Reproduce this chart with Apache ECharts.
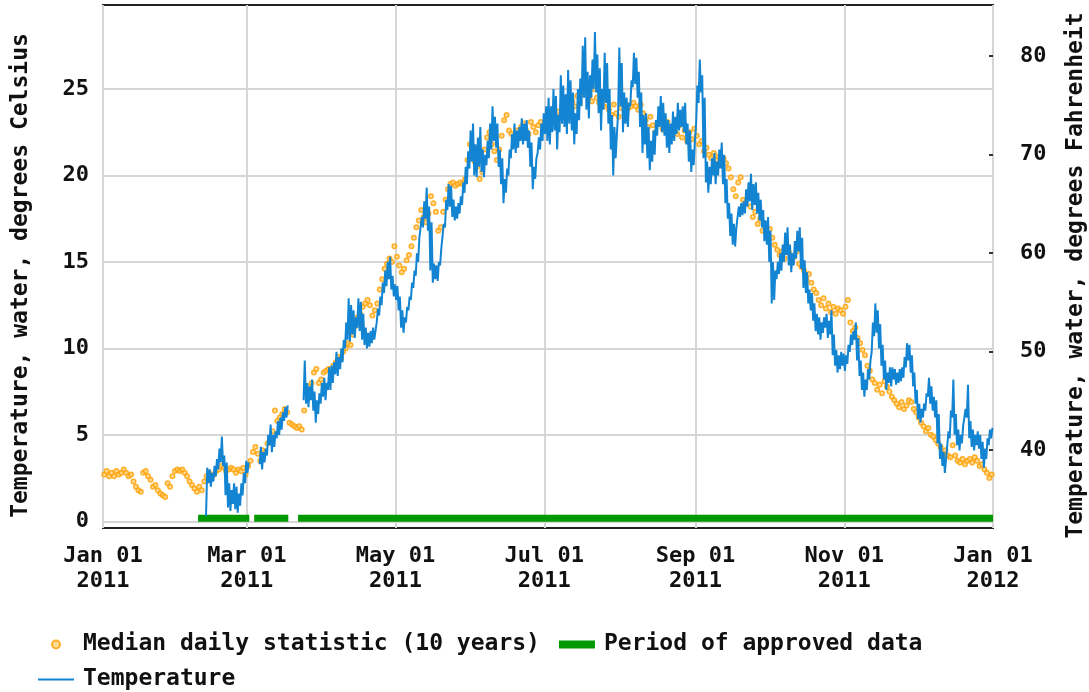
<!DOCTYPE html>
<html><head><meta charset="utf-8">
<script src="https://cdn.jsdelivr.net/npm/echarts@6/dist/echarts.min.js"></script>
<style>html,body{margin:0;padding:0;background:#fff}#c{width:1089px;height:692px}</style>
</head><body><div id="c"></div>
<script>
// ---- tick labels ----
const monthTickDays = [0, 59, 120, 181, 243, 304, 365];
const monthTickLabels = ['Jan 01\n2011','Mar 01\n2011','May 01\n2011','Jul 01\n2011','Sep 01\n2011','Nov 01\n2011','Jan 01\n2012'];
const celsiusTicks = [0, 5, 10, 15, 20, 25];
const fahrenheitTicks = [40, 50, 60, 70, 80];

// ---- Median daily statistic (10 years), deg C, day 0 = Jan 01 2011 ----
const medianDaily = [
 2.7,2.9,2.6,2.8,2.6,2.9,2.7,2.8,3.0,2.8,
 2.6,2.7,2.3,2.0,1.8,1.7,2.8,2.9,2.6,2.4,
 2.0,2.1,1.8,1.6,1.5,1.4,2.2,2.0,2.6,2.9,
 3.0,2.9,3.0,2.8,2.6,2.3,2.1,1.9,1.7,2.0,
 1.8,2.3,2.6,2.8,2.5,2.7,2.9,3.0,3.2,3.1,
 2.9,3.0,3.1,3.0,2.8,3.0,2.9,3.1,2.7,3.2,
 3.5,4.0,4.3,3.9,3.5,4.1,4.0,4.5,4.8,5.2,
 6.4,5.8,6.0,6.2,6.5,6.3,5.7,5.6,5.5,5.4,
 5.5,5.3,6.4,7.4,7.8,8.0,8.6,8.8,8.0,8.2,
 8.6,8.7,8.8,8.8,9.0,9.2,9.5,9.4,9.8,10.0,
 10.3,10.2,10.8,11.3,11.8,12.0,12.4,12.6,12.8,12.5,
 11.9,12.2,12.6,13.4,14.0,14.6,14.9,15.2,15.0,15.9,
 15.3,14.8,14.4,14.6,15.1,15.4,15.9,16.4,17.0,17.4,
 18.0,17.6,17.3,17.8,18.8,18.4,17.9,16.8,17.0,17.9,
 18.6,19.2,19.5,19.6,19.4,19.5,19.6,19.5,19.8,20.9,
 21.8,21.2,20.8,20.5,19.8,20.2,21.5,22.2,22.5,21.8,
 21.4,20.9,21.5,22.3,23.2,23.5,22.6,22.4,22.2,22.6,
 22.4,22.8,23.0,22.6,22.4,23.1,22.8,22.5,22.9,23.1,
 22.8,22.9,23.3,23.0,23.5,23.2,23.7,23.4,23.9,23.6,
 24.1,23.8,24.3,24.0,24.6,24.2,24.7,24.9,25.1,24.6,
 24.3,25.0,24.5,24.2,24.8,24.0,24.4,23.8,23.5,24.1,
 23.6,23.4,23.9,24.3,24.1,23.9,24.0,24.2,24.0,23.8,
 24.1,23.6,23.2,22.8,23.4,22.9,22.5,23.0,23.3,22.7,
 22.6,23.1,22.8,22.4,22.8,22.4,22.9,22.2,22.6,22.0,
 22.5,22.1,22.7,22.3,21.8,22.0,21.4,21.6,21.2,21.0,
 21.3,20.9,21.1,20.8,21.0,20.7,20.4,19.9,19.2,18.8,
 19.6,19.9,18.6,18.4,18.9,18.2,17.6,17.9,17.2,17.5,
 16.8,17.1,16.6,16.9,16.4,16.0,15.7,15.4,15.6,15.2,
 15.8,15.5,15.0,15.3,15.6,14.9,14.7,14.5,14.0,14.3,
 13.8,13.4,13.2,12.8,12.5,12.9,12.3,12.6,12.1,12.4,
 12.0,12.3,12.2,12.0,12.4,12.8,11.5,11.0,11.2,10.6,
 10.3,9.9,9.6,9.0,8.7,8.2,8.0,7.6,7.9,7.4,
 8.1,7.8,7.5,7.2,7.0,6.8,6.6,6.9,6.5,6.7,
 7.0,6.9,6.5,6.3,6.0,5.7,5.5,5.2,5.4,5.0,
 4.9,4.7,4.5,4.3,3.9,4.1,3.8,3.7,4.4,3.8,
 3.5,3.4,3.6,3.3,3.5,3.6,3.4,3.7,3.5,3.2,
 3.3,3.0,2.8,2.5,2.7
];

// ---- Temperature (daily low / high, deg C), first entry = day 42 (Feb 12 2011) ----
const tempStartDay = 42;
const tempLow = [
 0.3,2.2,2.0,2.3,2.6,3.0,3.4,3.2,1.5,0.8,
 0.6,1.0,0.7,0.5,0.9,1.5,2.2,2.8,null,null,
 null,null,3.3,3.0,3.4,3.8,4.4,4.0,4.3,4.8,
 5.0,5.3,5.8,6.0,null,null,null,null,null,null,
 7.0,6.8,6.6,7.0,6.4,5.7,6.2,6.8,7.2,7.0,
 7.6,7.6,8.0,8.5,8.4,8.8,9.2,10.0,10.5,10.4,
 10.8,10.6,11.2,11.0,10.5,10.2,10.0,10.1,10.3,10.5,
 11.5,11.9,12.5,13.2,13.6,14.0,13.4,13.0,12.8,12.2,
 11.2,10.9,11.5,12.2,12.8,13.5,14.2,15.0,16.3,17.0,
 17.5,16.8,14.5,13.8,14.0,13.9,14.8,15.8,17.0,18.0,
 18.2,17.6,17.4,17.5,17.8,18.3,19.0,19.5,20.4,20.8,
 20.0,19.9,20.5,20.2,19.9,20.6,21.0,21.5,22.0,21.6,
 20.5,19.5,18.4,19.0,20.0,21.0,21.5,21.3,21.6,22.0,
 21.8,22.0,21.6,20.5,19.2,19.8,21.3,21.5,22.0,22.4,
 22.0,21.8,22.5,22.6,21.5,22.5,23.0,22.8,22.4,23.0,
 22.6,21.8,22.4,23.2,24.0,24.5,23.8,23.3,24.5,25.0,
 24.8,23.6,22.6,23.8,24.2,23.0,21.5,20.0,21.0,23.6,
 24.0,22.5,23.0,22.8,24.0,25.1,25.3,24.5,22.8,21.3,
 21.8,21.0,20.3,20.8,21.2,22.3,22.8,22.5,22.3,21.6,
 21.3,21.8,22.0,22.4,22.6,22.8,22.5,21.8,20.8,20.2,
 20.6,23.0,24.2,24.8,21.0,19.6,19.0,19.5,20.0,19.5,
 20.0,20.4,19.5,18.4,17.5,16.5,16.0,15.9,17.0,17.6,
 17.7,17.8,18.2,18.5,18.0,18.3,17.8,17.4,17.0,16.2,
 16.0,15.0,12.6,12.8,14.0,14.3,14.5,15.0,15.4,14.8,
 14.4,14.8,15.2,15.6,14.6,13.5,13.2,12.6,12.2,11.6,
 11.0,10.8,10.5,10.9,11.2,10.6,10.8,9.6,9.0,8.6,
 8.8,9.0,8.7,9.1,9.8,10.2,10.5,9.3,8.4,7.6,
 7.2,7.6,8.2,9.8,10.7,10.9,10.0,9.0,8.2,7.6,
 8.0,7.8,8.2,7.9,8.0,8.1,8.3,8.9,9.3,8.6,
 7.8,6.8,5.9,5.7,6.0,6.4,7.2,6.8,6.4,6.0,
 4.5,3.6,3.2,2.8,3.5,4.8,6.0,5.0,4.4,4.1,
 4.5,5.6,6.0,4.8,4.3,4.1,4.4,4.2,3.6,3.1,
 3.6,4.4,4.8
];
const tempHigh = [
 3.1,3.0,2.8,3.2,3.6,4.2,4.9,3.8,3.4,2.2,
 1.8,2.2,2.0,1.6,2.2,2.8,3.5,3.4,null,null,
 null,null,4.3,4.0,4.2,5.0,5.6,5.0,5.2,5.8,
 6.0,6.3,6.6,6.7,null,null,null,null,null,null,
 9.3,8.0,7.8,8.2,7.5,7.0,7.4,8.0,8.3,8.0,
 8.9,9.0,9.2,9.8,9.5,10.0,10.5,11.5,12.9,12.5,
 12.2,11.8,12.9,12.7,12.0,11.2,10.9,11.0,11.2,11.0,
 12.3,13.0,13.8,14.5,15.0,15.3,14.2,13.7,13.6,13.0,
 12.2,11.8,12.4,13.0,13.8,14.5,15.5,16.4,17.6,18.5,
 19.3,18.2,17.3,14.9,14.8,15.0,15.8,17.2,18.6,19.5,
 19.4,18.6,18.2,18.4,18.8,19.6,20.5,21.4,22.6,23.0,
 21.8,22.2,22.8,21.5,21.2,22.0,23.0,24.0,23.4,23.0,
 21.5,21.0,19.8,20.4,21.5,22.4,23.0,22.6,22.8,23.3,
 23.0,23.2,22.6,21.9,20.5,21.0,22.2,23.0,23.6,24.0,
 24.5,24.0,25.0,24.6,23.5,25.8,25.2,24.7,26.1,25.5,
 24.8,23.6,25.0,25.6,27.5,28.0,26.0,25.8,26.7,28.3,
 27.0,26.2,25.0,27.1,26.5,25.0,23.5,22.8,22.4,27.4,
 26.5,24.8,24.5,24.2,25.5,27.1,26.8,26.0,24.8,23.5,
 23.6,22.8,22.0,22.6,23.2,24.0,24.6,24.2,23.6,23.2,
 23.0,23.7,23.4,24.2,23.8,24.0,24.2,23.0,22.6,21.5,
 22.0,25.2,26.7,25.8,24.5,20.8,20.5,21.0,21.3,20.8,
 21.5,21.9,21.2,19.8,18.4,17.8,17.2,17.0,18.2,18.4,
 18.5,19.2,19.6,20.1,19.5,19.6,19.0,18.6,18.0,17.4,
 17.6,16.8,15.0,14.5,15.0,15.5,16.0,16.7,17.0,16.0,
 15.5,16.2,16.8,17.0,16.4,15.1,14.4,13.4,13.2,12.6,
 12.0,11.8,11.5,11.8,12.0,11.6,12.2,10.8,9.9,9.6,
 9.8,9.7,9.6,10.2,10.8,11.0,11.5,10.6,9.3,8.6,
 8.2,8.8,9.3,11.5,12.6,12.2,11.4,10.2,9.3,8.6,
 8.9,8.9,8.8,8.6,8.8,8.9,9.5,10.3,10.2,9.6,
 8.6,7.6,6.8,6.5,6.8,7.4,8.3,7.8,7.2,7.0,
 6.2,4.5,4.0,3.6,5.2,6.4,8.2,6.2,5.3,5.0,
 5.5,6.5,7.9,5.8,5.3,5.0,5.2,5.0,4.6,4.2,
 4.8,5.3,5.4
];

// ---- Period of approved data ----
const approvedPeriods = [['2011-02-09','2011-03-02'],['2011-03-04','2011-03-18'],['2011-03-22','2012-01-01']];
const approvedLevel = 0.17;

// ---- build series data ----
const dayOf = s => (Date.UTC(+s.slice(0,4), +s.slice(5,7)-1, +s.slice(8,10)) - Date.UTC(2011,0,1)) / 86400000;
const approvedData = [];
approvedPeriods.forEach((p, i) => {
  if (i) approvedData.push([dayOf(p[0]) - 0.5, null]);
  approvedData.push([dayOf(p[0]), approvedLevel], [dayOf(p[1]), approvedLevel]);
});
const tempData = [];
tempLow.forEach((lo, i) => {
  const d = tempStartDay + i;
  if (lo == null) tempData.push([d + 0.5, null]);
  else tempData.push([d + 0.25, lo], [d + 0.75, tempHigh[i]]);
});
const medianData = medianDaily.map((v, i) => [i + 0.5, v]);

const FONT = 'DejaVu Sans Mono';
const txt = {fontFamily: FONT, fontWeight: 'bold', fontSize: 22, color: '#111'};

const chart = echarts.init(document.getElementById('c'), null, {renderer: 'canvas'});
chart.setOption({
  animation: false,
  backgroundColor: '#fff',
  grid: {left: 103, right: 96, top: 5, bottom: 164, outerBoundsMode: 'none', containLabel: false,
         show: true, borderColor: '#222', borderWidth: 2, backgroundColor: '#fff'},
  xAxis: {
    type: 'value', min: 0, max: 365,
    axisLine: {show: false},
    axisTick: {show: false, customValues: monthTickDays},
    splitLine: {show: true, lineStyle: {color: '#d6d6d6', width: 2}},
    axisLabel: Object.assign({}, txt, {
      customValues: monthTickDays, margin: 16, lineHeight: 25,
      formatter: v => monthTickLabels[monthTickDays.indexOf(v)] || ''
    })
  },
  yAxis: [{
    type: 'value', min: -0.39, max: 29.86, position: 'left',
    name: 'Temperature, water, degrees Celsius', nameLocation: 'middle', nameGap: 70,
    nameTextStyle: {fontFamily: FONT, fontWeight: 'bold', fontSize: 23, color: '#111', padding: [0, 18, 0, 0]},
    axisLine: {show: false},
    axisTick: {show: false, customValues: celsiusTicks},
    splitLine: {show: true, lineStyle: {color: '#d6d6d6', width: 2}},
    axisLabel: Object.assign({}, txt, {customValues: celsiusTicks, margin: 14})
  }, {
    type: 'value', min: 32.11, max: 85.15, position: 'right',
    name: 'Temperature, water, degrees Fahrenheit', nameLocation: 'middle', nameGap: 72,
    nameTextStyle: {fontFamily: FONT, fontWeight: 'bold', fontSize: 23, color: '#111', padding: [0, 18, 0, 0]},
    axisLine: {show: false},
    axisTick: {show: true, inside: true, length: 4, customValues: fahrenheitTicks, lineStyle: {color: '#333', width: 2}},
    splitLine: {show: false},
    axisLabel: Object.assign({}, txt, {customValues: fahrenheitTicks, margin: 27})
  }],
  legend: {
    left: 38, top: 633, padding: 0, itemWidth: 36, itemHeight: 8, itemGap: 12,
    textStyle: {fontFamily: FONT, fontWeight: 'bold', fontSize: 23, color: '#111', lineHeight: 22, padding: [0, 7, 0, 4]},
    data: [
      {name: 'Median daily statistic (10 years)'},
      {name: 'Period of approved data', icon: 'rect'},
      {name: 'Temperature', icon: 'path://M0,0 L36,0 L36,2 L0,2 Z'}
    ]
  },
  series: [{
    name: 'Period of approved data', type: 'line', yAxisIndex: 0,
    data: approvedData, symbol: 'none', connectNulls: false,
    lineStyle: {color: '#009900', width: 7, cap: 'butt'}, itemStyle: {color: '#009900'}
  }, {
    name: 'Temperature', type: 'line', yAxisIndex: 0,
    data: tempData, symbol: 'none', connectNulls: false,
    lineStyle: {color: '#1384d2', width: 2}, itemStyle: {color: '#1384d2'}
  }, {
    name: 'Median daily statistic (10 years)', type: 'scatter', yAxisIndex: 0,
    data: medianData, symbol: 'circle', symbolSize: 4.5,
    itemStyle: {color: '#ffd27a', borderColor: '#ff9f00', borderWidth: 1.5}
  }]
});
</script></body></html>
